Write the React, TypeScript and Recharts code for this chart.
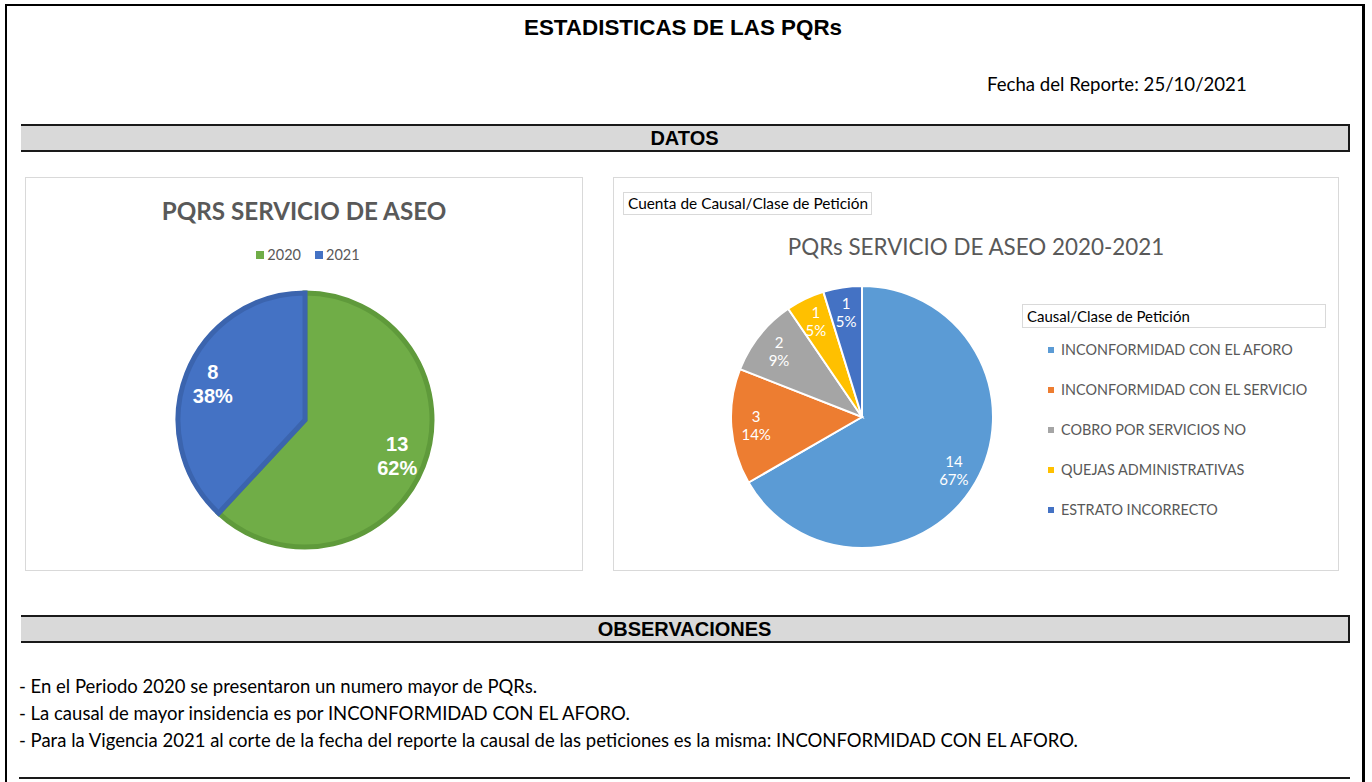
import React from 'react';
import { PieChart, Pie, Cell, Legend } from 'recharts';

// ---------- data ----------
const yearCategories = ['2020', '2021'];
const yearValues = [13, 8];
const yearPercentLabels = ['62%', '38%'];
const yearColors = ['#70ad47', '#4472c4'];
const yearStrokes = ['#5f9a3b', '#3b64ae'];

const causeCategories = [
  'INCONFORMIDAD CON EL AFORO',
  'INCONFORMIDAD CON EL SERVICIO',
  'COBRO POR SERVICIOS NO',
  'QUEJAS ADMINISTRATIVAS',
  'ESTRATO INCORRECTO',
];
const causeValues = [14, 3, 2, 1, 1];
const causePercentLabels = ['67%', '14%', '9%', '5%', '5%'];
const causeColors = ['#5b9bd5', '#ed7d31', '#a5a5a5', '#ffc000', '#4472c4'];

const observations = [
  '- En el Periodo 2020 se presentaron un numero mayor de PQRs.',
  '- La causal de mayor insidencia es por INCONFORMIDAD CON EL AFORO.',
  '- Para la Vigencia 2021 al corte de la fecha del reporte la causal de las peticiones es la misma: INCONFORMIDAD CON EL AFORO.',
];

const yearData = yearCategories.map((name, i) => ({ name, value: yearValues[i], pct: yearPercentLabels[i] }));
const causeData = causeCategories.map((name, i) => ({ name, value: causeValues[i], pct: causePercentLabels[i] }));

const CAL = "Lato, 'Noto Sans', sans-serif";
const ARIAL = "'Liberation Sans', Arial, sans-serif";
const RAD = Math.PI / 180;

const yearLabel = (p: any) => {
  const r = p.outerRadius * 0.78;
  const x = p.cx + r * Math.cos(-p.midAngle * RAD);
  const y = p.cy + r * Math.sin(-p.midAngle * RAD);
  return (
    <text x={x} y={y} fill="#ffffff" textAnchor="middle" fontFamily={ARIAL} fontWeight="bold" fontSize={20}>
      <tspan x={x} dy={-5}>{p.value}</tspan>
      <tspan x={x} dy={24}>{p.payload.pct}</tspan>
    </text>
  );
};

const causeLabel = (p: any) => {
  const r = p.outerRadius * 0.81;
  const x = p.cx + r * Math.cos(-p.midAngle * RAD);
  const y = p.cy + r * Math.sin(-p.midAngle * RAD);
  return (
    <text x={x} y={y} fill="#ffffff" textAnchor="middle" fontFamily={CAL} fontSize={15}>
      <tspan x={x} dy={-3}>{p.value}</tspan>
      <tspan x={x} dy={18}>{p.payload.pct}</tspan>
    </text>
  );
};

const YearLegend = () => (
  <div style={{ display: 'flex', justifyContent: 'center', fontFamily: CAL, fontSize: 14.5, color: '#595959' }}>
    {yearCategories.map((c, i) => (
      <div key={c} style={{ display: 'flex', alignItems: 'center', marginLeft: i ? 14 : 0 }}>
        <span style={{ width: 8, height: 8, background: yearColors[i], display: 'inline-block', marginRight: 3 }} />
        <span>{c}</span>
      </div>
    ))}
  </div>
);

const CauseLegend = () => (
  <div style={{ fontFamily: CAL, color: '#595959' }}>
    <div style={{ width: 304, height: 24, border: '1px solid #d9d9d9', boxSizing: 'border-box', fontSize: 15, color: '#000', paddingLeft: 4, lineHeight: '23px' }}>
      Causal/Clase de Petición
    </div>
    {causeCategories.map((c, i) => (
      <div key={c} style={{ position: 'absolute', left: 26, top: 36 + i * 40, display: 'flex', alignItems: 'center', fontSize: 14.4, lineHeight: '20px', whiteSpace: 'nowrap' }}>
        <span style={{ width: 6, height: 6, background: causeColors[i], display: 'inline-block', marginRight: 7 }} />
        <span>{c}</span>
      </div>
    ))}
  </div>
);

const band = (top: number, text: string) => (
  <div style={{ position: 'absolute', left: 21, top, width: 1329, height: 28, boxSizing: 'border-box', background: '#d9d9d9', borderTop: '2px solid #1a1a1a', borderBottom: '2px solid #1a1a1a', borderRight: '2px solid #1a1a1a', textAlign: 'center', fontFamily: ARIAL, fontWeight: 'bold', fontSize: 20, lineHeight: '24px', color: '#000' }}>
    {text}
  </div>
);

export default function App() {
  return (
    <div style={{ position: 'absolute', left: 0, top: 0, width: 1372, height: 782, background: '#fff', overflow: 'hidden' }}>
      {/* outer frame */}
      <div style={{ position: 'absolute', left: 5, top: 4, width: 1360, height: 2, background: '#000' }} />
      <div style={{ position: 'absolute', left: 5, top: 4, width: 2, height: 778, background: '#000' }} />
      <div style={{ position: 'absolute', left: 1362, top: 4, width: 3, height: 778, background: '#000' }} />

      <div style={{ position: 'absolute', left: 0, top: 15, width: 1366, textAlign: 'center', fontFamily: ARIAL, fontWeight: 'bold', fontSize: 22.4, color: '#000' }}>
        ESTADISTICAS DE LAS PQRs
      </div>
      <div style={{ position: 'absolute', left: 987, top: 73, fontFamily: CAL, fontSize: 18.6, color: '#000', whiteSpace: 'nowrap' }}>
        Fecha del Reporte: 25/10/2021
      </div>

      {band(124, 'DATOS')}

      {/* left chart panel */}
      <div style={{ position: 'absolute', left: 25, top: 177, width: 558, height: 394, border: '1px solid #d9d9d9', boxSizing: 'border-box' }}>
        <div style={{ position: 'absolute', left: 0, top: 18, width: 556, textAlign: 'center', fontFamily: CAL, fontWeight: 'bold', fontSize: 24.2, color: '#595959' }}>
          PQRS SERVICIO DE ASEO
        </div>
        <div style={{ position: 'absolute', left: 0, top: 0 }}>
          <PieChart width={556} height={392} margin={{ top: 0, right: 0, bottom: 0, left: 0 }}>
            <Legend layout="horizontal" verticalAlign="middle" align="center" content={YearLegend} wrapperStyle={{ top: 68, left: 4, width: 556 }} />
            <Pie data={yearData} dataKey="value" nameKey="name" cx={279} cy={242} outerRadius={127} startAngle={90} endAngle={-270} label={yearLabel} labelLine={false} isAnimationActive={false}>
              {yearData.map((d, i) => (
                <Cell key={d.name} fill={yearColors[i]} stroke={yearStrokes[i]} strokeWidth={5} />
              ))}
            </Pie>
          </PieChart>
        </div>
      </div>

      {/* right chart panel */}
      <div style={{ position: 'absolute', left: 613, top: 177, width: 726, height: 394, border: '1px solid #d9d9d9', boxSizing: 'border-box' }}>
        <div style={{ position: 'absolute', left: 9, top: 14, width: 249, height: 23, border: '1px solid #d9d9d9', boxSizing: 'border-box', fontFamily: CAL, fontSize: 15.4, lineHeight: '21px', paddingLeft: 4, color: '#000', whiteSpace: 'nowrap' }}>
          Cuenta de Causal/Clase de Petición
        </div>
        <div style={{ position: 'absolute', left: 0, top: 55, width: 724, textAlign: 'center', fontFamily: CAL, fontSize: 22.4, color: '#595959' }}>
          PQRs SERVICIO DE ASEO 2020-2021
        </div>
        <div style={{ position: 'absolute', left: 0, top: 0 }}>
          <PieChart width={724} height={392} margin={{ top: 0, right: 0, bottom: 0, left: 0 }}>
            <Legend layout="vertical" verticalAlign="middle" align="center" content={CauseLegend} wrapperStyle={{ top: 126, left: 408, width: 306 }} />
            <Pie data={causeData} dataKey="value" nameKey="name" cx={248} cy={239} outerRadius={131} startAngle={90} endAngle={-270} label={causeLabel} labelLine={false} isAnimationActive={false} stroke="#ffffff" strokeWidth={2}>
              {causeData.map((d, i) => (
                <Cell key={d.name} fill={causeColors[i]} />
              ))}
            </Pie>
          </PieChart>
        </div>
      </div>

      {band(615, 'OBSERVACIONES')}

      {observations.map((o, i) => (
        <div key={i} style={{ position: 'absolute', left: 19, top: 675 + i * 27, fontFamily: CAL, fontSize: 18.5, color: '#000', whiteSpace: 'nowrap' }}>
          {o}
        </div>
      ))}
      <div style={{ position: 'absolute', left: 19, top: 777, width: 1331, height: 2, background: '#1a1a1a' }} />
    </div>
  );
}
